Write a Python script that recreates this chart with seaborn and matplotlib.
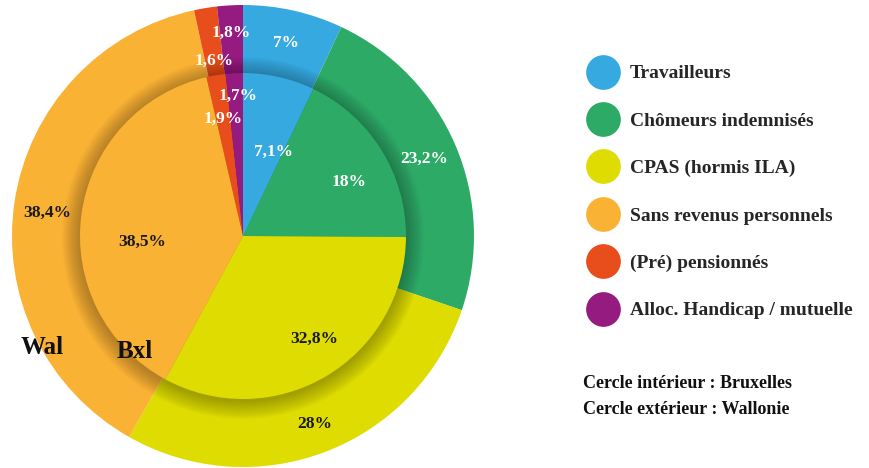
import matplotlib.pyplot as plt
import numpy as np
import seaborn as sns
from matplotlib.lines import Line2D
from matplotlib.patches import Circle

# data (Wallonie = outer ring, Bruxelles = inner ring)
categories = ["Travailleurs", "Chômeurs indemnisés", "CPAS (hormis ILA)",
              "Sans revenus personnels", "(Pré) pensionnés", "Alloc. Handicap / mutuelle"]
wallonie = [7, 23.2, 28, 38.4, 1.6, 1.8]
bruxelles = [7.1, 18, 32.8, 38.5, 1.9, 1.7]

colors = sns.color_palette(["#36a9e1", "#2dab66", "#dedc00", "#f9b234", "#e84e1b", "#951b81"])
label_colors = ["white", "white", "#1a1a1a", "#1a1a1a", "white", "white"]
# label placement: fraction of the ring radius and small angular nudge (degrees)
outer_pos = [0.855, 0.85, 0.87, 0.855, 0.77, 0.88]
outer_nudge = [0, 0, 0, 2, 0, 0]
inner_pos = [0.55, 0.73, 0.77, 0.62, 0.73, 0.86]
inner_nudge = [-7, -5, 4, 11, 0, -1]

sns.set_theme(style="white")
plt.rcParams['font.family'] = ['Liberation Serif', 'DejaVu Serif']

fig = plt.figure(figsize=(8.7, 4.68), dpi=100)
ax = fig.add_axes([0, 0, 1, 1])

cx, cy = 243, 232
r_out, r_in = 231, 163


def fmt(v):
    return f"{v:g}".replace(".", ",") + "%"


def put_labels(values, radius, fracs, nudges):
    values = np.array(values)
    mids = np.cumsum(values) - values / 2
    for v, m, f, d, c in zip(values, mids, fracs, nudges, label_colors):
        ang = np.deg2rad(90 - 360 * m / 100 + d)
        ax.text(cx + radius * f * np.cos(ang), cy + radius * f * np.sin(ang), fmt(v),
                ha="center", va="center", color=c, fontsize=12.5, fontweight="bold", zorder=6)


ax.pie(wallonie, colors=colors, startangle=90, counterclock=False,
       center=(cx, cy), radius=r_out, wedgeprops=dict(linewidth=0))

# soft shadow around the inner circle
n = 14
for k in range(n):
    ax.add_patch(Circle((cx, cy - 2), r_in + 18 * (1 - k / n), color="black",
                        alpha=0.018, linewidth=0, zorder=2))

wedges, _ = ax.pie(bruxelles, colors=colors, startangle=90, counterclock=False,
                   center=(cx, cy), radius=r_in, wedgeprops=dict(linewidth=0))
for w in wedges:
    w.set_zorder(3)

put_labels(wallonie, r_out, outer_pos, outer_nudge)
put_labels(bruxelles, r_in, inner_pos, inner_nudge)

ax.text(cx - 201, cy - 112, "Wal", ha="center", va="center", fontsize=18,
        fontweight="bold", color="#111111", zorder=6)
ax.text(cx - 108, cy - 116, "Bxl", ha="center", va="center", fontsize=18,
        fontweight="bold", color="#111111", zorder=6)

ax.set_xlim(0, 870)
ax.set_ylim(0, 468)
ax.set_aspect("equal")
ax.axis("off")

handles = [Line2D([], [], marker="o", linestyle="none", markersize=25,
                  markerfacecolor=c, markeredgewidth=0) for c in colors]
fig.legend(handles, categories, loc="upper left", bbox_to_anchor=(580 / 870, 1 - 57 / 468),
           frameon=False, prop=dict(size=14, weight="bold"), labelspacing=1.53,
           handletextpad=0.55, handlelength=1.6, borderaxespad=0)

fig.text(583 / 870, 1 - 383 / 468, "Cercle intérieur : Bruxelles", fontsize=13,
         fontweight="bold", va="center", color="#111111")
fig.text(583 / 870, 1 - 409 / 468, "Cercle extérieur : Wallonie", fontsize=13,
         fontweight="bold", va="center", color="#111111")

fig.savefig("out.png", dpi=100)
